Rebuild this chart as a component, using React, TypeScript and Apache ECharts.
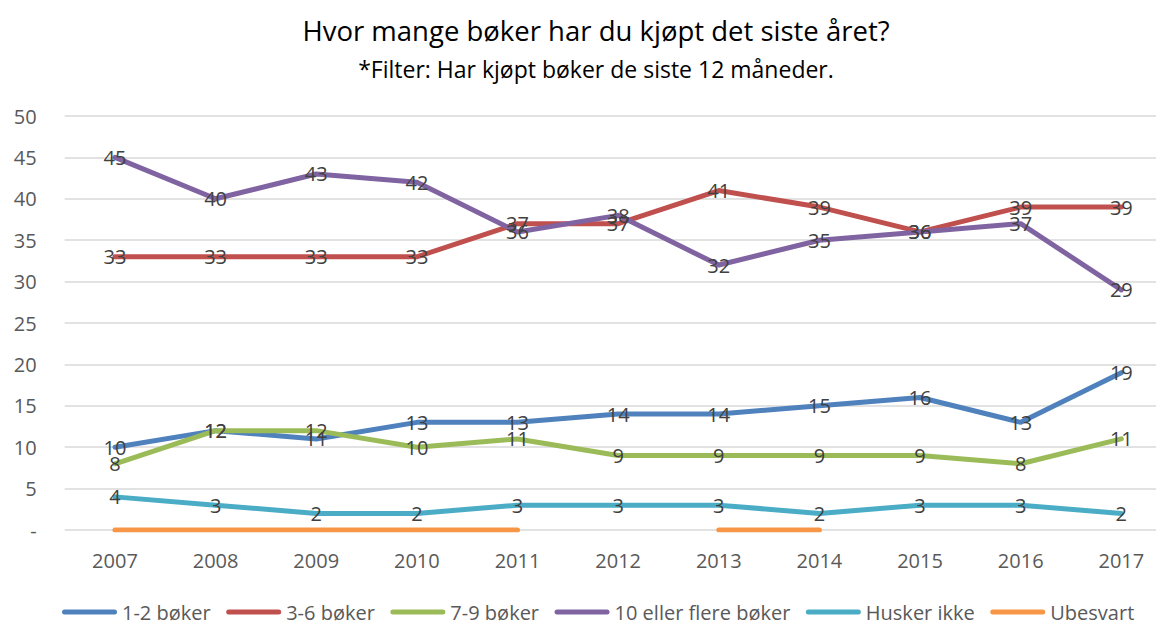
import React, { useEffect, useRef } from "react";
import * as echarts from "echarts";

const years = ["2007", "2008", "2009", "2010", "2011", "2012", "2013", "2014", "2015", "2016", "2017"];
const seriesNames = ["1-2 bøker", "3-6 bøker", "7-9 bøker", "10 eller flere bøker", "Husker ikke", "Ubesvart"];
const b12 = [10, 12, 11, 13, 13, 14, 14, 15, 16, 13, 19];
const b36 = [33, 33, 33, 33, 37, 37, 41, 39, 36, 39, 39];
const b79 = [8, 12, 12, 10, 11, 9, 9, 9, 9, 8, 11];
const b10 = [45, 40, 43, 42, 36, 38, 32, 35, 36, 37, 29];
const husker = [4, 3, 2, 2, 3, 3, 3, 2, 3, 3, 2];
const ubesvart = [0, 0, 0, 0, 0, null, 0, 0, null, null, null];
const colors = ["#4F81BD", "#C0504D", "#9BBB59", "#8064A2", "#4BACC6", "#F79646"];
const titleText = "Hvor mange bøker har du kjøpt det siste året?";
const subtitleText = "*Filter: Har kjøpt bøker de siste 12 måneder.";

const FONT = "'Open Sans', sans-serif";
const LEGEND_ICON = "path://M2.5,0 H52.5 A2.5,2.5 0 0 1 52.5,5 H2.5 A2.5,2.5 0 0 1 2.5,0 Z";

export default function App() {
  const ref = useRef<HTMLDivElement>(null);
  useEffect(() => {
    const chart = echarts.init(ref.current!, null, { renderer: "svg" });
    const data = [b12, b36, b79, b10, husker, ubesvart];
    chart.setOption({
      animation: false,
      color: colors,
      textStyle: { fontFamily: FONT },
      title: [
        {
          text: titleText,
          left: 596,
          top: 16,
          padding: 0,
          textAlign: "center",
          textStyle: { fontFamily: FONT, fontSize: 27.5, fontWeight: "normal", color: "#000000" },
        },
        {
          text: subtitleText,
          left: 596,
          top: 57,
          padding: 0,
          textAlign: "center",
          textStyle: { fontFamily: FONT, fontSize: 23, fontWeight: "normal", color: "#000000" },
        },
      ],
      legend: {
        top: 602,
        left: 62,
        padding: 0,
        icon: LEGEND_ICON,
        itemWidth: 55,
        itemHeight: 5,
        itemGap: 15.5,
        textStyle: { fontFamily: FONT, fontSize: 20, color: "#595959" },
        data: seriesNames,
      },
      grid: {
        left: 64.65,
        width: 1107,
        top: 116,
        bottom: 94,
        containLabel: false,
        outerBoundsMode: "none",
      },
      xAxis: {
        type: "category",
        data: years,
        boundaryGap: true,
        axisLine: { show: false },
        axisTick: { show: false },
        axisLabel: { fontFamily: FONT, fontSize: 20, color: "#595959", margin: 20 },
      },
      yAxis: {
        type: "value",
        min: 0,
        max: 50,
        interval: 5,
        axisLine: { show: false },
        axisTick: { show: false },
        splitLine: { lineStyle: { color: "#D9D9D9", width: 1.5 } },
        axisLabel: {
          fontFamily: FONT,
          fontSize: 20,
          color: "#595959",
          margin: 28,
          formatter: (v: number) => (v === 0 ? "-" : String(v)),
        },
      },
      series: data.map((d, i) => ({
        name: seriesNames[i],
        type: "line",
        data: d,
        symbol: "circle",
        symbolSize: 0.01,
        showSymbol: true,
        connectNulls: false,
        emphasis: { disabled: true },
        lineStyle: { width: 5, color: colors[i], cap: "round", join: "round" },
        itemStyle: { color: colors[i] },
        label: {
          show: i !== 5,
          position: "inside",
          fontFamily: FONT,
          fontSize: 20,
          color: "#404040",
        },
        labelLayout: { hideOverlap: false },
      })),
    });
    return () => chart.dispose();
  }, []);
  return <div ref={ref} style={{ width: 1156, height: 624, position: "absolute", left: 0, top: 0 }} />;
}
